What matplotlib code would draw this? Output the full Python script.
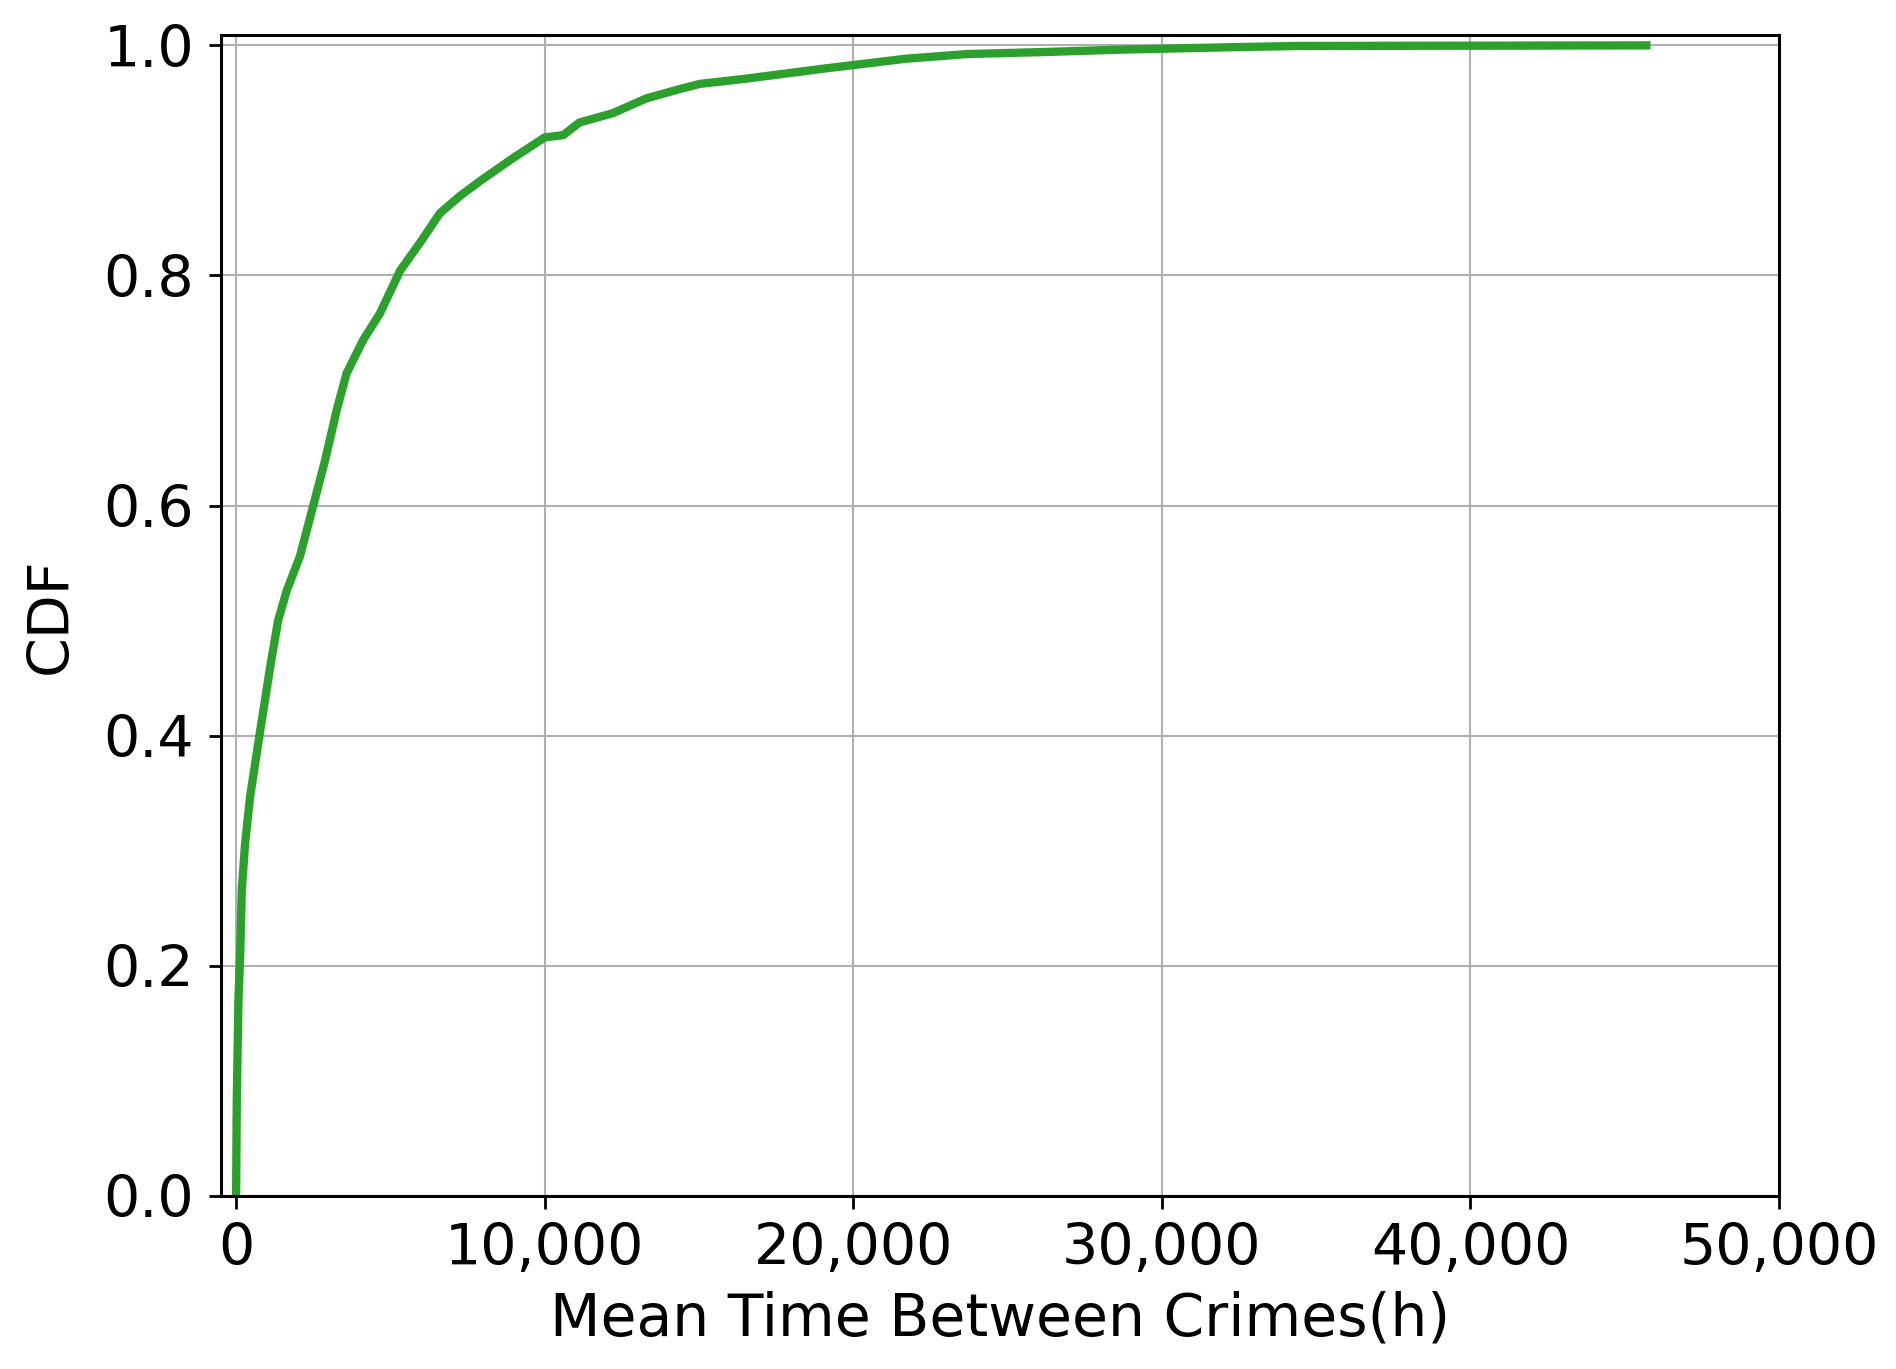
import matplotlib
matplotlib.use("Agg")
from matplotlib import pyplot as plt
from matplotlib.ticker import StrMethodFormatter

# CDF (hours, cumulative fraction)
timp = [0, 20, 75, 130, 184, 290, 453, 755, 1100, 1360, 1640, 2070, 2500,
        2880, 3260, 3580, 4120, 4660, 5310, 6000, 6600, 7250, 7900, 8970,
        10000, 10600, 11130, 12200, 13300, 14370, 15020, 16500, 19100,
        21700, 23700, 26150, 28640, 32360, 34430, 45700]
cdf = [0.0, 0.08, 0.17, 0.208, 0.266, 0.306, 0.347, 0.40, 0.459, 0.50,
       0.526, 0.556, 0.60, 0.639, 0.683, 0.715, 0.744, 0.767, 0.804, 0.83,
       0.854, 0.869, 0.882, 0.902, 0.920, 0.922, 0.933, 0.941, 0.954,
       0.962, 0.9665, 0.971, 0.980, 0.9884, 0.9925, 0.9942, 0.9963,
       0.9985, 0.9995, 1.0]

fig = plt.figure(figsize=(18.96, 13.69), dpi=100)
ax = fig.add_axes([0.1164, 0.1266, 0.8219, 0.8478])

ax.plot(timp, cdf, color='#2ca02c', linewidth=6)

ax.set_xlim(-500, 50000)
ax.set_ylim(0, 1.009)
ax.set_xticks([0, 10000, 20000, 30000, 40000, 50000])
ax.set_yticks([0.0, 0.2, 0.4, 0.6, 0.8, 1.0])
ax.xaxis.set_major_formatter(StrMethodFormatter('{x:,.0f}'))
ax.yaxis.set_major_formatter(StrMethodFormatter('{x:.1f}'))

ax.grid(True, color='#b0b0b0', linewidth=1.5)
ax.set_axisbelow(True)
for s in ax.spines.values():
    s.set_linewidth(2.2)
ax.tick_params(axis='both', labelsize=41, length=9, width=2, pad=10)

ax.set_xlabel('Mean Time Between Crimes(h)', fontsize=42, labelpad=10)
ax.set_ylabel('CDF', fontsize=41, labelpad=18)

fig.savefig('out.png', dpi=100)
